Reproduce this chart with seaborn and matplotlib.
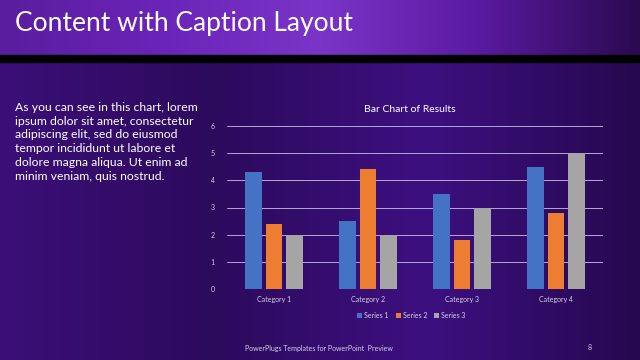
import seaborn as sns
import pandas as pd
import numpy as np
import matplotlib.pyplot as plt
from matplotlib.patches import Rectangle

# chart values
categories = ['Category 1', 'Category 2', 'Category 3', 'Category 4']
series_names = ['Series 1', 'Series 2', 'Series 3']
series_1 = [4.3, 2.5, 3.5, 4.5]
series_2 = [2.4, 4.4, 1.8, 2.8]
series_3 = [2.0, 2.0, 3.0, 5.0]
y_ticks = [0, 1, 2, 3, 4, 5, 6]

caption = ('As you can see in this chart, lorem\n'
           'ipsum dolor sit amet, consectetur\n'
           'adipiscing elit, sed do eiusmod\n'
           'tempor incididunt ut labore et\n'
           'dolore magna aliqua. Ut enim ad\n'
           'minim veniam, quis nostrud.')

df = pd.DataFrame({
    'category': categories * 3,
    'series': [s for s in series_names for _ in categories],
    'value': series_1 + series_2 + series_3,
})

sns.set_style('dark')
plt.rcParams['font.family'] = ['Lato', 'DejaVu Sans']

fig = plt.figure(figsize=(6.4, 3.6), dpi=100)
fig.patch.set_facecolor('#2e0b5e')

# background: slide body, title banner, black strip
bg = fig.add_axes([0, 0, 1, 1])
bg.set_xlim(0, 640)
bg.set_ylim(360, 0)
bg.axis('off')
body = np.linspace(0, 1, 256).reshape(1, -1)
bg.imshow(body, extent=[0, 640, 360, 62], aspect='auto',
          cmap=sns.blend_palette(['#3b0f78', '#2c0a5c', '#3d1080', '#26084f'], as_cmap=True))
bg.imshow(body, extent=[0, 640, 55, 0], aspect='auto',
          cmap=sns.blend_palette(['#5a1d9e', '#6a24b8', '#7a35c8', '#5a1aa0', '#2a0a50'], as_cmap=True))
bg.add_patch(Rectangle((0, 55), 640, 7, color='black'))
bg.text(15, 23, 'Content with Caption Layout', color='white', fontsize=19, va='center', ha='left')
bg.text(15, 102, caption, color='white', fontsize=8.8, va='top', ha='left', linespacing=1.3)
bg.text(245, 348, 'PowerPlugs Templates for PowerPoint  Preview', color='#d8d0e8', fontsize=5, va='center')
bg.text(590, 348, '8', color='#d8d0e8', fontsize=5, va='center', ha='center')
bg.text(410, 110, 'Bar Chart of Results', color='white', fontsize=7.5, va='center', ha='center')

ax = fig.add_axes([227 / 640, 1 - 289 / 360, 376 / 640, 163 / 360])
ax.patch.set_alpha(0)
sns.barplot(data=df, x='category', y='value', hue='series', ax=ax,
            palette=['#4472c4', '#ed7d31', '#a5a5a5'], width=0.65, gap=0.18,
            saturation=1, errorbar=None, linewidth=0)
ax.set_ylim(0, 6)
ax.set_yticks(y_ticks)
ax.set_xlabel('')
ax.set_ylabel('')
ax.grid(axis='y', color='#b9a6d8', linewidth=0.7)
ax.grid(axis='x', visible=False)
ax.set_axisbelow(True)
for s in ax.spines.values():
    s.set_visible(False)
ax.tick_params(axis='both', colors='#d8d0e8', labelsize=5, length=0)
ax.tick_params(axis='y', pad=9)
ax.tick_params(axis='x', pad=5)
leg = ax.legend(loc='upper center', bbox_to_anchor=(0.49, -0.1), ncol=3, frameon=False,
                fontsize=5, labelcolor='#d8d0e8', handlelength=0.7, handleheight=0.7,
                handletextpad=0.3, columnspacing=1.0)

fig.savefig('out.png', dpi=100, facecolor=fig.get_facecolor())
